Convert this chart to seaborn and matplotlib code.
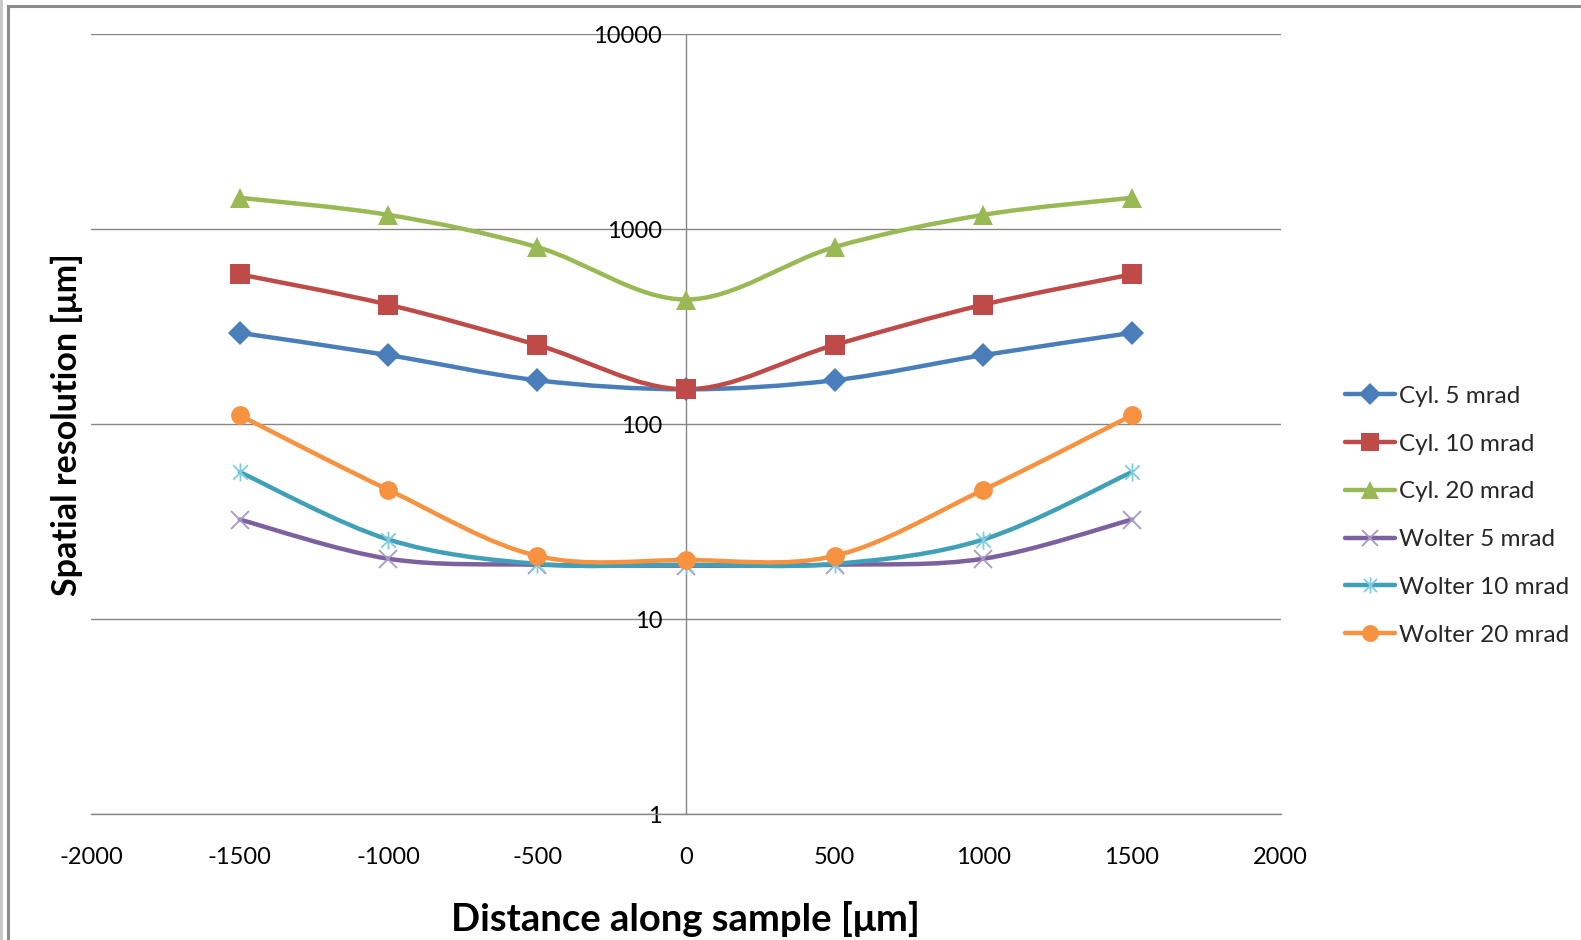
import numpy as np
import matplotlib
matplotlib.use("Agg")
import matplotlib.pyplot as plt
import seaborn as sns
from matplotlib.path import Path
from matplotlib.patches import PathPatch, Rectangle
from matplotlib.lines import Line2D
from matplotlib.ticker import FixedLocator, FixedFormatter, NullLocator

# ---- data ----
distance = [-1500, -1000, -500, 0, 500, 1000, 1500]
cyl_5 = [294, 226, 168, 151, 168, 226, 294]
cyl_10 = [587, 410, 255, 151, 255, 410, 587]
cyl_20 = [1450, 1185, 810, 436, 810, 1185, 1450]
wolter_5 = [32.4, 20.4, 19.0, 18.8, 19.0, 20.4, 32.4]
wolter_10 = [56.8, 25.6, 19.2, 19.0, 19.2, 25.6, 56.8]
wolter_20 = [111, 46, 21.1, 20.1, 21.1, 46, 111]

series_names = ["Cyl. 5 mrad", "Cyl. 10 mrad", "Cyl. 20 mrad",
                "Wolter 5 mrad", "Wolter 10 mrad", "Wolter 20 mrad"]
series_values = [cyl_5, cyl_10, cyl_20, wolter_5, wolter_10, wolter_20]

x_ticks = [-2000, -1500, -1000, -500, 0, 500, 1000, 1500, 2000]
y_ticks = [1, 10, 100, 1000, 10000]
y_tick_labels = ["1", "10", "100", "1000", "10000"]

# ---- styles ----
line_colors = ["#4A7EBB", "#BE4B48", "#98B954", "#7D60A0", "#3FA0B8", "#F69240"]
marker_colors = ["#4A7EBB", "#BE4B48", "#98B954", "#A898C4", "#7FCBE0", "#F69240"]
star = Path([(-1, -1), (1, 1), (-1, 1), (1, -1), (0, -1.25), (0, 1.25)],
            [Path.MOVETO, Path.LINETO, Path.MOVETO, Path.LINETO, Path.MOVETO, Path.LINETO])
markers = ["D", "s", "^", "x", star, "o"]
msizes = [12, 14, 14.5, 13, 13, 13.5]

sns.set_theme(style="white")
plt.rcParams["font.family"] = ["Lato", "DejaVu Sans"]

fig = plt.figure(figsize=(15.81, 9.40), dpi=100)
ax = fig.add_axes([0.0576, 0.134, 0.7524, 0.8295])

ax.set_yscale("log")
ax.set_xlim(-2000, 2000)
ax.set_ylim(1, 10000)


def smooth_path(xs, ys):
    pts = np.column_stack([np.asarray(xs, float), np.log10(np.asarray(ys, float))])
    n = len(pts)
    verts = [pts[0]]
    codes = [Path.MOVETO]
    for i in range(n - 1):
        p0, p3 = pts[i], pts[i + 1]
        pm = pts[i - 1] if i > 0 else pts[i]
        pn = pts[i + 2] if i + 2 < n else pts[i + 1]
        c1 = p0 + (p3 - pm) / 6.0
        c2 = p3 - (pn - p0) / 6.0
        verts += [c1, c2, p3]
        codes += [Path.CURVE4] * 3
    verts = np.array(verts)
    verts[:, 1] = 10 ** verts[:, 1]
    return Path(verts, codes)


handles = []
for name, vals, lc, mc, mk, ms in zip(series_names, series_values, line_colors,
                                       marker_colors, markers, msizes):
    patch = PathPatch(smooth_path(distance, vals), transform=ax.transData,
                      fill=False, edgecolor=lc, lw=3.2, zorder=3,
                      capstyle="round", joinstyle="round")
    ax.add_patch(patch)
    unfilled = mk in ("x",) or isinstance(mk, Path)
    kw = dict(marker=mk, markersize=ms, linestyle="", color=mc, zorder=4)
    if unfilled:
        kw.update(markeredgewidth=1.3, markerfacecolor="none", markeredgecolor=mc)
    else:
        kw.update(markeredgewidth=0, markerfacecolor=mc)
    sns.lineplot(x=distance, y=vals, ax=ax, legend=False, **kw)
    h = Line2D([0], [0], color=lc, lw=3.2, marker=mk,
               markersize=ms * 0.9,
               markerfacecolor=("none" if unfilled else mc),
               markeredgecolor=mc,
               markeredgewidth=(1.3 if unfilled else 0))
    handles.append(h)

# axes styling
grid_col = "#868686"
ax.yaxis.set_major_locator(FixedLocator(y_ticks))
ax.yaxis.set_major_formatter(FixedFormatter(y_tick_labels))
ax.yaxis.set_minor_locator(NullLocator())
ax.set_xticks(x_ticks)
ax.set_xticklabels([str(v) for v in x_ticks])
ax.grid(axis="y", color=grid_col, lw=1.0)
ax.grid(axis="x", visible=False)
for s in ["top", "right"]:
    ax.spines[s].set_visible(False)
ax.spines["left"].set_position(("data", 0))
ax.spines["left"].set_color(grid_col)
ax.spines["bottom"].set_color(grid_col)
ax.spines["left"].set_linewidth(1.0)
ax.spines["bottom"].set_linewidth(1.0)
ax.tick_params(axis="y", length=0, pad=17, labelsize=17, labelcolor="black")
ax.tick_params(axis="x", length=0, pad=24, labelsize=17, labelcolor="black")
ax.set_axisbelow(True)

ax.set_xlabel("Distance along sample [μm]", fontsize=27.5, fontweight="bold", color="black")
ax.xaxis.set_label_coords(0.5, -0.134)
ax.xaxis.label.set_va("center")
ax.set_ylabel("Spatial resolution [μm]", fontsize=24.5, fontweight="bold", color="black")
ax.yaxis.set_label_coords(-0.0206, 0.5)
ax.yaxis.label.set_va("center")

fig.legend(handles, series_names, loc="upper left", bbox_to_anchor=(0.8505, 0.5894),
           frameon=False, fontsize=17.5, handlelength=2.07, handletextpad=0.17,
           labelspacing=1.1, borderpad=0, borderaxespad=0)

# outer frame like the spreadsheet chart border
fig.patches.append(Rectangle((8 / 1581, -0.1), 1.2, 1 - 6 / 940 + 0.1,
                             transform=fig.transFigure, fill=False,
                             edgecolor="#8C8C8C", lw=2.2))
fig.patches.append(Rectangle((0.5 / 1581, -0.1), 0, 1.2, transform=fig.transFigure,
                             fill=False, edgecolor="#C8C8C8", lw=2.0))

fig.savefig("out.png", dpi=100)
